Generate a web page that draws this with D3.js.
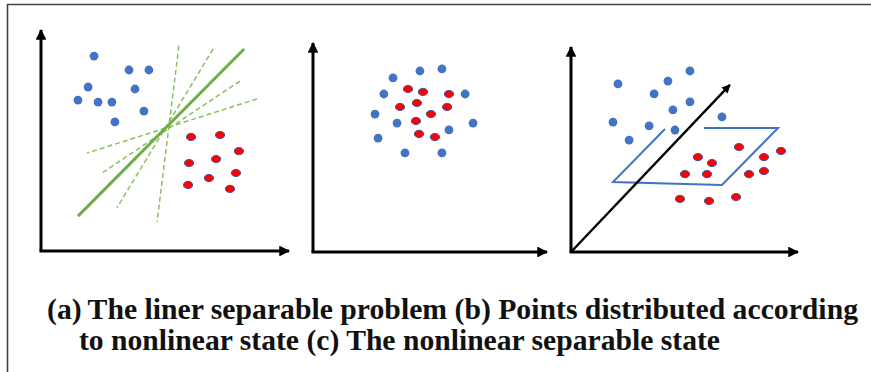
<!DOCTYPE html>
<html>
<head>
<meta charset="utf-8">
<script src="https://cdn.jsdelivr.net/npm/d3@7"></script>
<style>
  html, body { margin: 0; padding: 0; background: #fff; }
  svg { display: block; }
</style>
</head>
<body>
<svg id="chart"></svg>
<script>
// panel (a): linearly separable
const blueA = [[2.14, 8.82], [3.55, 8.19], [4.35, 8.19], [1.90, 7.42], [3.79, 7.33],
  [1.49, 6.83], [2.30, 6.74], [2.86, 6.74], [4.15, 6.33], [2.98, 5.84]];
const redA = [[6.05, 5.16], [7.22, 5.25], [7.98, 4.52], [5.97, 3.98], [7.06, 4.16],
  [7.86, 3.53], [5.93, 2.99], [6.77, 3.30], [7.62, 2.81]];
const bestLineA = [[1.49, 1.58], [8.19, 9.14]];
const otherLinesA = [
  [[5.56, 9.28], [4.68, 1.31]],
  [[6.94, 9.14], [3.06, 1.95]],
  [[8.02, 7.69], [2.46, 3.53]],
  [[8.71, 6.88], [1.85, 4.43]],
];

// panel (b): points mixed, nonlinear
const blueB = [[4.57, 8.66], [5.51, 8.76], [3.42, 8.33], [3.03, 7.56], [6.50, 7.56], [2.65, 6.60],
  [3.59, 6.17], [6.84, 6.17], [2.78, 5.45], [5.81, 5.84], [3.93, 4.74], [5.51, 4.74]];
const redB = [[4.06, 7.80], [4.70, 7.66], [5.81, 7.56], [4.44, 7.13], [3.72, 6.94],
  [5.73, 6.94], [5.04, 6.60], [4.40, 6.27], [4.53, 5.65], [5.21, 5.50]];

// panel (c): lifted to 3D, separated by a plane
const blueC = [[5.24, 8.83], [4.27, 8.34], [2.07, 8.20], [3.66, 7.71], [5.24, 7.32], [4.49, 6.93],
  [6.65, 6.59], [1.85, 6.34], [3.44, 6.15], [4.58, 5.95], [2.56, 5.46]];
const redC = [[7.40, 5.12], [5.59, 4.63], [6.21, 4.34], [8.50, 4.63], [9.25, 4.93], [5.02, 3.80],
  [5.99, 3.80], [7.84, 3.80], [8.50, 3.95], [4.80, 2.59], [6.08, 2.49], [7.27, 2.68]];
const depthAxisC = [[0, 0], [7.00, 8.15]];
const planeC = [[4.14, 6.00], [1.85, 3.41], [6.65, 3.27], [9.12, 6.05], [5.86, 6.05]];

const captionLines = [
  '(a)\u2009The liner separable problem (b) Points distributed according',
  'to nonlinear state (c) The nonlinear separable state',
];

const config = {
  width: 871,
  height: 372,
  blue: '#4472C4',
  red: '#FF0000',
  redStroke: '#3F4FA0',
  green: '#70AD47',
  axisWidth: 3,
};

const svg = d3.select('#chart')
  .attr('width', config.width)
  .attr('height', config.height)
  .attr('viewBox', [0, 0, config.width, config.height]);

// arrow head
svg.append('defs').append('marker')
  .attr('id', 'arrow')
  .attr('viewBox', '0 0 10 10')
  .attr('refX', 9)
  .attr('refY', 5)
  .attr('markerWidth', 4)
  .attr('markerHeight', 3.6)
  .attr('markerUnits', 'strokeWidth')
  .attr('orient', 'auto')
  .append('path')
  .attr('d', 'M0,0L10,5L0,10z')
  .attr('fill', '#000');

// frame: top and left only
svg.append('path')
  .attr('d', `M7.5,${config.height}V4.5H${config.width}`)
  .attr('fill', 'none')
  .attr('stroke', '#444')
  .attr('stroke-width', 1.6);

const panels = [
  { x0: 41, x1: 289, y0: 251, y1: 30 },
  { x0: 313, x1: 547, y0: 252, y1: 43 },
  { x0: 571, x1: 798, y0: 252, y1: 47 },
];

function makePanel(p) {
  const x = d3.scaleLinear([0, 10], [p.x0, p.x1]);
  const y = d3.scaleLinear([0, 10], [p.y0, p.y1]);
  const g = svg.append('g');
  return { x, y, g };
}

function drawAxes({ g, x, y }) {
  g.append('path')
    .attr('d', `M${x(0)},${y(0)}V${y(10)}`)
    .attr('stroke', '#000').attr('stroke-width', config.axisWidth)
    .attr('marker-end', 'url(#arrow)');
  g.append('path')
    .attr('d', `M${x(0) - 1.5},${y(0)}H${x(10)}`)
    .attr('stroke', '#000').attr('stroke-width', config.axisWidth)
    .attr('marker-end', 'url(#arrow)');
}

function drawBlue({ g, x, y }, data) {
  g.append('g').selectAll('circle')
    .data(data)
    .join('circle')
    .attr('cx', (d) => x(d[0]))
    .attr('cy', (d) => y(d[1]))
    .attr('r', 4.4)
    .attr('fill', config.blue);
}

function drawRed({ g, x, y }, data) {
  g.append('g').selectAll('ellipse')
    .data(data)
    .join('ellipse')
    .attr('cx', (d) => x(d[0]))
    .attr('cy', (d) => y(d[1]))
    .attr('rx', 4.6)
    .attr('ry', 3.6)
    .attr('fill', config.red)
    .attr('stroke', config.redStroke)
    .attr('stroke-width', 1);
}

// (a)
const pa = makePanel(panels[0]);
const lineA = d3.line().x((d) => pa.x(d[0])).y((d) => pa.y(d[1]));
pa.g.selectAll('.dash')
  .data(otherLinesA)
  .join('path')
  .attr('class', 'dash')
  .attr('d', lineA)
  .attr('fill', 'none')
  .attr('stroke', '#86C061')
  .attr('stroke-width', 1.5)
  .attr('stroke-dasharray', '5,3');
pa.g.append('path')
  .attr('d', lineA(bestLineA))
  .attr('fill', 'none')
  .attr('stroke', config.green)
  .attr('stroke-width', 3);
drawBlue(pa, blueA);
drawRed(pa, redA);
drawAxes(pa);

// (b)
const pb = makePanel(panels[1]);
drawBlue(pb, blueB);
drawRed(pb, redB);
drawAxes(pb);

// (c)
const pc = makePanel(panels[2]);
const lineC = d3.line().x((d) => pc.x(d[0])).y((d) => pc.y(d[1]));
drawBlue(pc, blueC);
pc.g.append('path')
  .attr('d', lineC(planeC))
  .attr('fill', 'none')
  .attr('stroke', config.blue)
  .attr('stroke-width', 2);
drawRed(pc, redC);
pc.g.append('path')
  .attr('d', lineC(depthAxisC))
  .attr('stroke', '#000').attr('stroke-width', 2.4)
  .attr('marker-end', 'url(#arrow)');
drawAxes(pc);

// caption
const caption = svg.append('g')
  .attr('font-family', 'Liberation Serif')
  .attr('font-weight', 'bold')
  .attr('font-size', 29)
  .attr('fill', '#111');
const captionPos = [[47, 319, 811], [79, 350, 641]];
caption.selectAll('text')
  .data(captionLines)
  .join('text')
  .attr('x', (_, i) => captionPos[i][0])
  .attr('y', (_, i) => captionPos[i][1])
  .attr('textLength', (_, i) => captionPos[i][2])
  .attr('lengthAdjust', 'spacingAndGlyphs')
  .text((d) => d);
</script>
</body>
</html>
